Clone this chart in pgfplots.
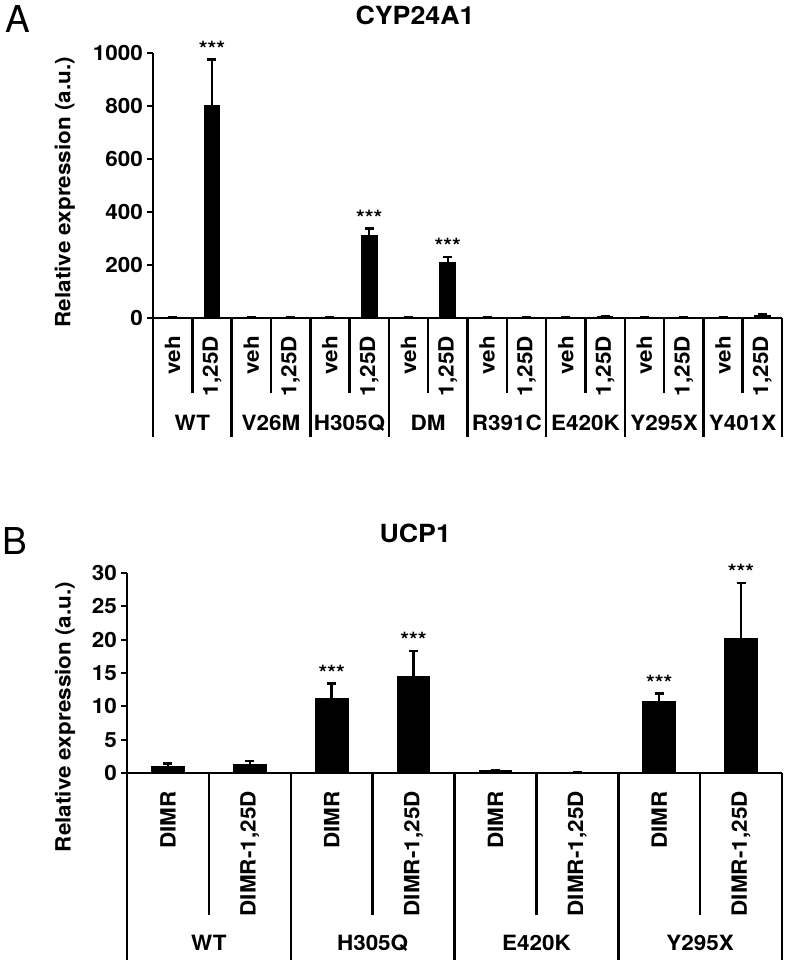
\documentclass[border=0pt]{standalone}
\usepackage{fontspec}
\setmainfont{TeX Gyre Heros}[FakeStretch=1.07]
\newfontfamily\plainfont{TeX Gyre Heros}
\usepackage{pgfplots}
\pgfplotsset{compat=1.18}
\newcommand\lab{\fontsize{21pt}{24pt}\selectfont\bfseries}
\newcommand\tlab{\fontsize{21pt}{24pt}\selectfont\bfseries}
\newcommand\ttl{\fontsize{25pt}{28pt}\selectfont\bfseries}
\pgfplotsset{
  panel/.style={
    scale only axis, anchor=south west,
    axis x line=bottom, axis y line=left,
    axis line style={-, line width=2.5pt, black},
    x axis line style={shorten <=-5pt},
    tick align=outside, major tick length=6pt,
    ytick style={line width=2pt, black},
    xtick style={draw=none},
    yticklabel style={font=\tlab, inner sep=0pt},
    yticklabel shift=4pt,
    xticklabel style={font=\lab, rotate=90, anchor=east, inner sep=0pt},
    xticklabel shift=12pt,
    /pgf/number format/assume math mode=true,
    /pgf/number format/1000 sep={},
    clip=false,
    ylabel style={font=\lab},
    title style={font=\ttl},
    every axis title shift=0pt,
  },
  bars/.style={ybar, bar width=0.4, fill=black, draw=black, line width=0pt,
    error bars/.cd, y dir=plus, y explicit,
    error bar style={line width=2.5pt, black},
    error mark options={rotate=90, mark size=4.5pt, line width=2.5pt, black}},
  stars/.style={draw=none, mark=none, nodes near coords={***},
    every node near coord/.append style={font=\lab, anchor=south, inner sep=0pt, yshift=3pt}},
}
\begin{document}
\begin{tikzpicture}
\useasboundingbox (0pt,0pt) rectangle (788pt,960pt);
\node[font=\plainfont\fontsize{37pt}{40pt}\selectfont] at (18pt,941pt) {A};
\node[font=\plainfont\fontsize{37pt}{40pt}\selectfont] at (15pt,419pt) {B};

% Panel A
\begin{axis}[panel, at={(153pt,642pt)}, width=629pt, height=265pt,
  xmin=0, xmax=16, ymin=0, ymax=1000, ytick={0,200,...,1000},
  xtick={0.5,1.5,...,15.5},
  xticklabels={veh,{1,25D},veh,{1,25D},veh,{1,25D},veh,{1,25D},veh,{1,25D},veh,{1,25D},veh,{1,25D},veh,{1,25D}},
  ylabel={Relative expression (a.u.)},
  ylabel style={at={(axis description cs:-0.14,0.475)}, anchor=center},
  title={CYP24A1},
  title style={at={(axis description cs:0.4165,1.143)}, anchor=center}]
\addplot[bars] coordinates {
  (0.5,1) +- (0,0.3)
  (1.5,800) +- (0,175)
  (2.5,1) +- (0,0.3)
  (3.5,1.5) +- (0,0.5)
  (4.5,1) +- (0,0.3)
  (5.5,310) +- (0,27)
  (6.5,1) +- (0,0.3)
  (7.5,208) +- (0,22)
  (8.5,1) +- (0,0.3)
  (9.5,1.5) +- (0,0.5)
  (10.5,1) +- (0,0.3)
  (11.5,4) +- (0,2)
  (12.5,1) +- (0,0.3)
  (13.5,1) +- (0,0.3)
  (14.5,1) +- (0,0.3)
  (15.5,9) +- (0,4)
};
\addplot[stars] coordinates {(1.5,975) (5.5,337) (7.5,230)};
\pgfplotsinvokeforeach{0,2,...,16}{\draw[line width=2.5pt] (axis cs:#1,0) -- ++(0pt,-119pt);}
\pgfplotsinvokeforeach{1,3,...,15}{\draw[line width=2.5pt] (axis cs:#1,0) -- ++(0pt,-75pt);}
\node[font=\lab] at (axis cs:1,0) [yshift=-105pt] {WT};
\node[font=\lab] at (axis cs:3,0) [yshift=-105pt] {V26M};
\node[font=\lab] at (axis cs:5,0) [yshift=-105pt] {H305Q};
\node[font=\lab] at (axis cs:7,0) [yshift=-105pt] {DM};
\node[font=\lab] at (axis cs:9,0) [yshift=-105pt] {R391C};
\node[font=\lab] at (axis cs:11,0) [yshift=-105pt] {E420K};
\node[font=\lab] at (axis cs:13,0) [yshift=-105pt] {Y295X};
\node[font=\lab] at (axis cs:15,0) [yshift=-105pt] {Y401X};
\end{axis}

% Panel B
\begin{axis}[panel, at={(127pt,187pt)}, width=655pt, height=200pt,
  xmin=0, xmax=8, ymin=0, ymax=30, ytick={0,5,...,30},
  xtick={0.5,1.5,...,7.5},
  xticklabels={DIMR,{DIMR-1,25D},DIMR,{DIMR-1,25D},DIMR,{DIMR-1,25D},DIMR,{DIMR-1,25D}},
  ylabel={Relative expression (a.u.)},
  ylabel style={at={(axis description cs:-0.0947,0.28)}, anchor=center},
  title={UCP1},
  title style={at={(axis description cs:0.44,1.2)}, anchor=center}]
\addplot[bars] coordinates {
  (0.5,0.9) +- (0,0.5)
  (1.5,1.2) +- (0,0.6)
  (2.5,11.2) +- (0,2.2)
  (3.5,14.4) +- (0,3.9)
  (4.5,0.3) +- (0,0.15)
  (5.5,0.1) +- (0,0.05)
  (6.5,10.7) +- (0,1.2)
  (7.5,20.1) +- (0,8.4)
};
\addplot[stars] coordinates {(2.5,13.4) (3.5,18.3) (6.5,11.9) (7.5,28.5)};
\pgfplotsinvokeforeach{0,2,...,8}{\draw[line width=2.5pt] (axis cs:#1,0) -- ++(0pt,-187pt);}
\pgfplotsinvokeforeach{1,3,...,7}{\draw[line width=2.5pt] (axis cs:#1,0) -- ++(0pt,-142pt);}
\node[font=\lab] at (axis cs:1,0) [yshift=-170pt] {WT};
\node[font=\lab] at (axis cs:3,0) [yshift=-170pt] {H305Q};
\node[font=\lab] at (axis cs:5,0) [yshift=-170pt] {E420K};
\node[font=\lab] at (axis cs:7,0) [yshift=-170pt] {Y295X};
\end{axis}
\end{tikzpicture}
\end{document}
